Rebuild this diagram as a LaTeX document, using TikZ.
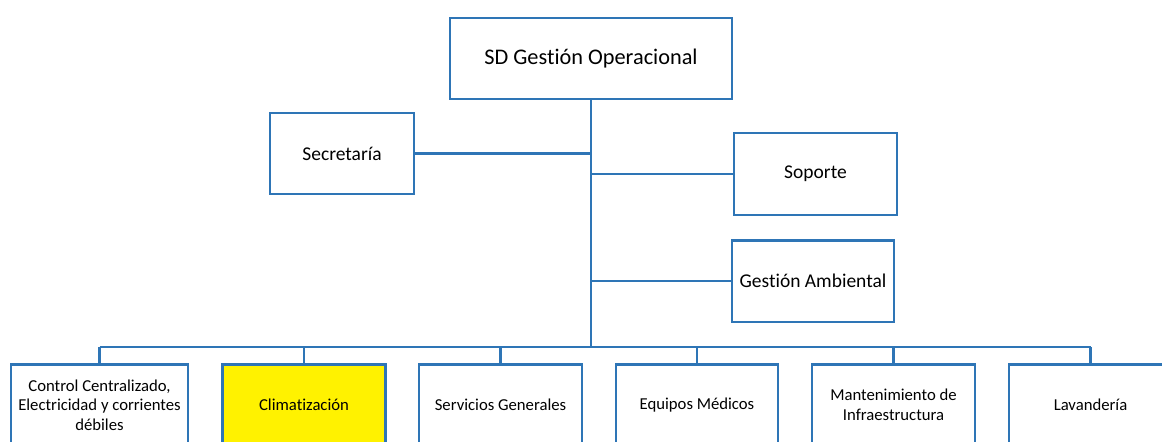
\documentclass[tikz,border=0pt]{standalone}
\usepackage{fontspec}
\setmainfont[RawFeature=-liga]{Carlito}
\usetikzlibrary{positioning}
\definecolor{orgblue}{HTML}{2E75B6}
\tikzset{
  unit/.style={draw=orgblue, line width=1.4pt, align=center, inner sep=2pt,
    minimum height=1.63cm, font=\fontsize{9.5}{11.2}\selectfont},
  staff/.style={unit, font=\fontsize{11.1}{13}\selectfont},
  link/.style={draw=orgblue, line width=1.5pt}
}

\begin{document}
\begin{tikzpicture}[x=0.02cm,y=-0.02cm]
\useasboundingbox (0,0) rectangle (1162,441);
\clip (0,0) rectangle (1162,441);

\node[unit, minimum width=5.64cm, font=\fontsize{12.7}{15}\selectfont] (jefe) at (591,58.5) {SD Gestión Operacional};
\node[staff, minimum width=2.88cm] (secretaria) at (342,153.5) {Secretaría};
\node[staff, minimum width=3.26cm] (soporte) at (815.5,174) {Soporte};
\node[staff, minimum width=3.24cm] (ambiental) at (813,281) {Gestión Ambiental};

\node[unit, minimum width=3.54cm] (control) at (99.5,405) {Control Centralizado,\\Electricidad y corrientes\\débiles};
\node[unit, minimum width=3.26cm, fill=yellow] (clima) at (304,405) {Climatización};
\node[unit, minimum width=3.26cm] (servicios) at (500.5,405) {Servicios Generales};
\node[unit, minimum width=3.24cm] (equipos) at (697,405) {Equipos Médicos};
\node[unit, minimum width=3.26cm] (mantencion) at (893.5,405) {Mantenimiento de\\Infraestructura};
\node[unit, minimum width=3.26cm] (lavanderia) at (1090.5,405) {Lavandería};

\coordinate (bus) at (591,347);
\draw[link] (jefe.south) -- (bus);
\draw[link] (secretaria.east) -- (secretaria.east -| jefe.south);
\draw[link] (soporte.west) -- (soporte.west -| jefe.south);
\draw[link] (ambiental.west) -- (ambiental.west -| jefe.south);
\draw[link] (control.north |- bus) -- (lavanderia.north |- bus);
\foreach \n in {control,clima,servicios,equipos,mantencion,lavanderia}
  \draw[link] (\n.north) -- (\n.north |- bus);

\end{tikzpicture}
\end{document}
